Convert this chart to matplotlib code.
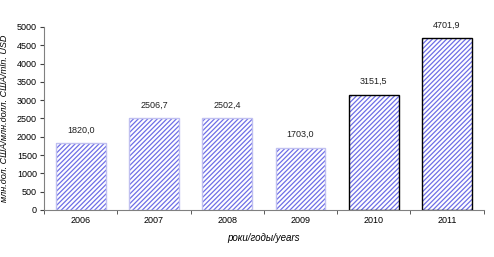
# bar chart: mln USD by year, hatched bars like the excel original
import numpy as np
import matplotlib.pyplot as plt

years = ['2006', '2007', '2008', '2009', '2010', '2011']
values = [1820.0, 2506.7, 2502.4, 1703.0, 3151.5, 4701.9]
value_labels = ['1820,0', '2506,7', '2502,4', '1703,0', '3151,5', '4701,9']
y_ticks = [0, 500, 1000, 1500, 2000, 2500, 3000, 3500, 4000, 4500, 5000]

plt.rcParams['font.family'] = ['Liberation Sans', 'DejaVu Sans']
plt.rcParams['hatch.linewidth'] = 0.9

fig = plt.figure(figsize=(4.94, 2.57), dpi=100)
ax = fig.add_axes([0.089, 0.183, 0.89, 0.712])

x = np.arange(len(years))
hatch_col = '#6e6ee6'
# hatched fill (hatch colour follows the edge colour)
ax.bar(x, values, width=0.68, color='white', edgecolor=hatch_col, hatch='///////', linewidth=0)
# outlines: only the last two bars have the black frame
edge = ['#c0c0f0', '#c0c0f0', '#c0c0f0', '#c0c0f0', 'black', 'black']
ax.bar(x, values, width=0.68, fill=False, edgecolor=edge, linewidth=1.0)

for xi, v, lab in zip(x, values, value_labels):
    ax.text(xi, v + 230, lab, ha='center', va='bottom', fontsize=6.5, color='#202020')

ax.set_xlim(-0.5, len(years) - 0.5)
ax.set_ylim(0, 5000)
ax.set_yticks(y_ticks)
ax.set_xticks(x)
ax.set_xticklabels(years)
# ticks between categories like excel
ax.set_xticks(np.arange(len(years) + 1) - 0.5, minor=True)
ax.tick_params(axis='x', which='major', length=0, labelsize=6.5, pad=4)
ax.tick_params(axis='x', which='minor', length=3, direction='out', color='#404040')
ax.tick_params(axis='y', length=3, labelsize=6.5, color='#404040', pad=2)

for s in ['top', 'right']:
    ax.spines[s].set_visible(False)
ax.spines['left'].set_color('#808080')
ax.spines['bottom'].set_color('#808080')
ax.spines['left'].set_linewidth(0.8)
ax.spines['bottom'].set_linewidth(0.8)

ax.set_xlabel('роки/годы/years', fontsize=7, style='italic', labelpad=6)
ax.set_ylabel('млн.дол. США/млн.долл. США/mln. USD', fontsize=6.5, style='italic', labelpad=6)

plt.savefig('out.png', dpi=100)
